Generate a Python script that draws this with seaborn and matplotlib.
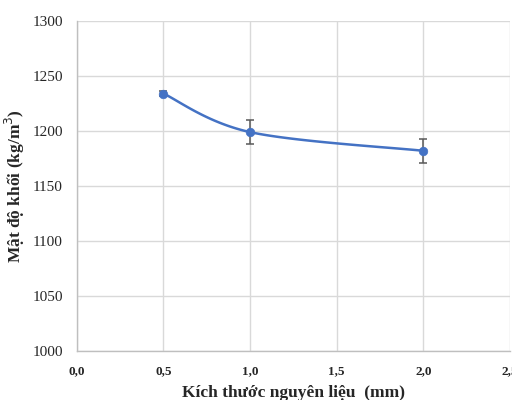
import numpy as np
import pandas as pd
import matplotlib
matplotlib.use("Agg")
import matplotlib.pyplot as plt
import seaborn as sns
from matplotlib.ticker import FuncFormatter

# Data
sizes = [0.5, 1.0, 2.0]
density = [1234, 1199, 1182]
density_err = [2, 11, 11]

sns.set_style("whitegrid")
plt.rcParams["font.family"] = ["Liberation Serif", "DejaVu Serif"]

df = pd.DataFrame({"size": sizes, "density": density, "err": density_err})


def smooth_curve(x, y, n=60):
    """Catmull-Rom style smoothing, similar to Excel's smoothed line."""
    x = np.asarray(x, float)
    y = np.asarray(y, float)
    px = np.concatenate([[x[0]], x, [x[-1]]])
    py = np.concatenate([[y[0]], y, [y[-1]]])
    xs, ys = [], []
    for i in range(1, len(px) - 2):
        p0, p1, p2, p3 = (np.array([px[j], py[j]]) for j in range(i - 1, i + 3))
        c1 = p1 + (p2 - p0) / 6
        c2 = p2 - (p3 - p1) / 6
        t = np.linspace(0, 1, n)[:, None]
        b = ((1 - t) ** 3) * p1 + 3 * ((1 - t) ** 2) * t * c1 + 3 * (1 - t) * t ** 2 * c2 + t ** 3 * p2
        xs.append(b[:, 0])
        ys.append(b[:, 1])
    return np.concatenate(xs), np.concatenate(ys)


fig = plt.figure(figsize=(5.12, 4), dpi=100)
ax = fig.add_axes([0.150, 0.1225, 0.846, 0.825])

line_color = "#4472C4"
cx, cy = smooth_curve(df["size"], df["density"])
ax.plot(cx, cy, color=line_color, linewidth=1.8, zorder=3)
ax.errorbar(df["size"], df["density"], yerr=df["err"], fmt="none",
            ecolor="#595959", elinewidth=1.1, capsize=3, capthick=1.1, zorder=4)
sns.scatterplot(data=df, x="size", y="density", color=line_color, s=38,
                edgecolor=line_color, zorder=5, ax=ax)

ax.set_xlim(0, 2.5)
ax.set_ylim(1000, 1300)
ax.set_xticks(np.arange(0, 2.51, 0.5))
ax.set_yticks(np.arange(1000, 1301, 50))
ax.xaxis.set_major_formatter(FuncFormatter(lambda v, p: f"{v:.1f}".replace(".", ",")))
ax.grid(True, color="#d9d9d9", linewidth=1)
for side in ["top", "right"]:
    ax.spines[side].set_visible(False)
for side in ["left", "bottom"]:
    ax.spines[side].set_color("#bfbfbf")
    ax.spines[side].set_linewidth(1)

ax.tick_params(axis="y", length=0, pad=10)
ax.tick_params(axis="x", length=0, pad=10)
for lab in ax.get_xticklabels():
    lab.set_fontsize(9.5)
    lab.set_fontweight("bold")
for lab in ax.get_yticklabels():
    lab.set_fontsize(11)

ax.set_xlabel("Kích thước nguyên liệu  (mm)", fontsize=12.5, fontweight="bold", labelpad=6)
ax.set_ylabel("Mật độ khối (kg/m$^3$)", fontsize=12.5, fontweight="bold", labelpad=4)

fig.savefig("out.png", dpi=100)
